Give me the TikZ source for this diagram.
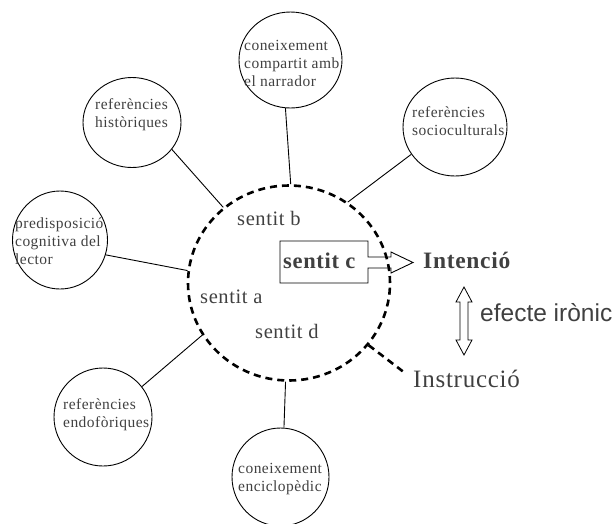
\documentclass[tikz,border=0pt]{standalone}
\usepackage{fontspec}
\setmainfont{Liberation Serif}
\newfontfamily\lsfont[LetterSpace=3]{Liberation Serif}
\newfontfamily\arialfont{Liberation Sans}
\usetikzlibrary{shapes.geometric}
\definecolor{txt}{RGB}{64,64,64}
\begin{document}
\begin{tikzpicture}[x=1pt,y=-1pt,
  satellite/.style={draw, ellipse, inner sep=0pt, line width=0.9pt},
  bigring/.style={draw, ellipse, inner sep=0pt, line width=2.6pt, dash pattern=on 7pt off 5pt},
  bigdash/.style={line width=2.6pt, dash pattern=on 7pt off 5pt},
  ctext/.style={anchor=west, align=left, inner sep=0pt, text=txt, font=\lsfont\fontsize{15.5}{18}\selectfont},
  link/.style={line width=0.9pt},
  sense/.style={anchor=base west, inner sep=0pt, text=txt, font=\lsfont\fontsize{20.5}{24}\selectfont},
  outline/.style={line width=0.9pt, line join=miter},
]
\useasboundingbox (0,0) rectangle (615,523);

% satellite circles
\node[satellite, minimum width=103pt, minimum height=96pt] (comp) at (290.5,60) {};
\node[satellite, minimum width=104pt, minimum height=98pt] (soc) at (455,127) {};
\node[satellite, minimum width=98pt, minimum height=90pt] (hist) at (132,122.5) {};
\node[satellite, minimum width=95pt, minimum height=98pt] (pred) at (60,240) {};
\node[satellite, minimum width=98pt, minimum height=98pt] (endo) at (103,417) {};
\node[satellite, minimum width=97pt, minimum height=98pt] (enci) at (280.5,477) {};

% central dashed ring
\node[bigring, minimum width=202pt, minimum height=195pt] (big) at (289,283) {};

% circle texts
\node[ctext] (tcomp) at (244,63) {coneixement\\compartit amb\\el narrador};
\node[ctext] (thist) at (95,114.5) {referències\\històriques};
\node[ctext] (tpred) at (15,241.5) {predisposició\\cognitiva del\\lector};
\node[ctext] (tsoc) at (412,121) {referències\\socioculturals};
\node[ctext] (tendo) at (63,415) {referències\\endofòriques};
\node[ctext] (tenci) at (238,479) {coneixement\\enciclopèdic};

% links
\draw[link] (comp.-96.5) -- (big.89.4);
\draw[link] (soc.212) -- (big.54.4);
\draw[link] (hist.-34) -- (big.131.3);
\draw[link] (pred.-18.8) -- (big.173.8);
\draw[link] (endo.38.5) -- (big.211.5);
\draw[link] (enci.86) -- (big.-92);

% senses
\node[sense] (sb) at (237,225) {sentit b};
\node[sense] (sa) at (200,303) {sentit a};
\node[sense] (sd) at (255,338) {sentit d};
\node[sense, font=\lsfont\bfseries\fontsize{22.5}{26}\selectfont] (sc) at (283,268) {sentit c};

% box with arrow around sentit c
\draw[outline] (280,241) -- (368,241) -- (368,257) -- (391,257) -- (391,252) -- (413,262.5)
  -- (391,273) -- (391,268) -- (368,268) -- (368,283) -- (280,283) -- cycle;

% right-hand labels
\node[anchor=base west, inner sep=0pt, text=txt, font=\lsfont\bfseries\fontsize{23.5}{28}\selectfont] (int) at (423,268) {Intenció};
\node[anchor=base west, inner sep=0pt, text=txt, font=\lsfont\fontsize{25}{30}\selectfont] (ins) at (413,387) {Instrucció};
\node[anchor=base west, inner sep=0pt, text=txt, font=\arialfont\fontsize{24.5}{29}\selectfont] (ef) at (480,321) {efecte irònic};

% dashed line to Instrucció
\coordinate (iend) at (405,373);
\draw[bigdash] (big.-38.5) -- (iend);

% hollow double arrow
\draw[outline, line width=0.8pt] (464,287) -- (472,302) -- (468,302) -- (468,340) -- (472,340) -- (464,355)
  -- (456,340) -- (460,340) -- (460,302) -- (456,302) -- cycle;
\end{tikzpicture}
\end{document}
